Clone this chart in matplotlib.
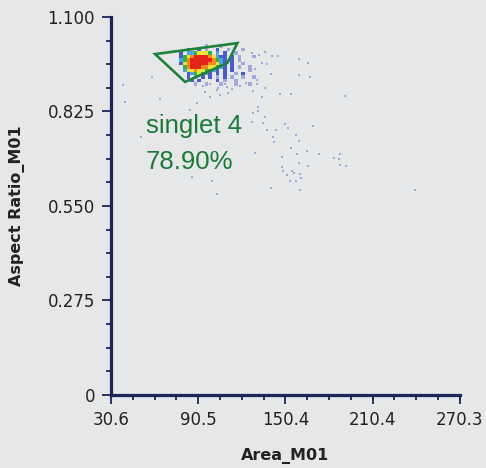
import numpy as np
import matplotlib.pyplot as plt
from matplotlib.colors import ListedColormap
from matplotlib.ticker import FixedLocator, AutoMinorLocator

BG = "#e6e7e9"
AXIS_COLOR = "#1c2557"
GATE_COLOR = "#1d823a"
TEXT_GREEN = "#1b7a37"

X_TICKS = [30.6, 90.5, 150.4, 210.4, 270.3]
X_TICK_LABELS = ["30.6", "90.5", "150.4", "210.4", "270.3"]
Y_TICKS = [0, 0.275, 0.55, 0.825, 1.1]
Y_TICK_LABELS = ["0", "0.275", "0.550", "0.825", "1.100"]

# density core: levels 1 (faint) .. 7 (red), rows from y=1.02 down, 0.01 each
GRID_X0 = 72.5
GRID_DX = 2.5
GRID_YTOP = 1.02
GRID_DY = 0.01
DENSITY_ROWS = [
    "         1   1          ",
    "    2  2 1  2  1   1    ",
    "  2 3345554 3 2  1      ",
    "  2456777765322 2 1   1 ",
    "  3467777776432 2 1     ",
    "  2567777766532 2  1    ",
    "   467776655432 2 1  1  ",
    "   3556554432 2 2    1  ",
    "    2345432 2 2  1 2    ",
    "    2 3 2 2 1 2 1  1  1 ",
    "     2 2    2 1  1      ",
    "      1  1   1   1   1  ",
]
LEVEL_COLORS = ["#a3a8da", "#4a5cc8", "#4aa8de", "#36b04a",
                "#ece335", "#f28a1e", "#e3241a"]

# sparse events outside the core
OUT_X = [127.7, 132.5, 136.6, 141.5, 145.6, 160.0, 166.2, 134.6, 138.0, 129.7,
         140.8, 160.0, 167.6, 131.1, 131.1, 136.6, 128.4, 147.0, 154.5, 191.0,
         134.6, 131.8, 131.8, 128.4, 136.6, 127.7, 135.3, 150.4, 152.5, 169.7,
         138.0, 144.2, 158.0, 142.1, 142.8, 160.0, 154.5, 165.5, 173.8, 129.7,
         158.7, 187.6, 148.3, 183.5, 186.9, 160.0, 166.2, 187.6, 191.7, 148.3,
         149.0, 155.2, 156.6, 151.8, 160.7, 161.4, 153.8, 158.0, 140.8, 160.7,
         239.2, 38.9, 58.8, 40.2, 64.3, 51.3, 85.0, 89.8, 98.8, 103.6,
         110.5, 105.6, 86.4, 100.1, 103.6, 88.4, 94.0, 98.8, 104.3, 109.1,
         113.9, 119.4, 123.6, 95.3, 111.2]
OUT_Y = [0.995, 0.989, 0.998, 0.987, 0.987, 0.978, 0.966, 0.966, 0.963, 0.949,
         0.934, 0.931, 0.925, 0.917, 0.905, 0.893, 0.885, 0.876, 0.876, 0.870,
         0.867, 0.838, 0.827, 0.821, 0.809, 0.794, 0.792, 0.789, 0.777, 0.783,
         0.771, 0.771, 0.757, 0.751, 0.736, 0.739, 0.719, 0.710, 0.701, 0.704,
         0.701, 0.701, 0.693, 0.690, 0.687, 0.675, 0.666, 0.669, 0.666, 0.664,
         0.652, 0.652, 0.646, 0.640, 0.643, 0.631, 0.623, 0.623, 0.602, 0.597,
         0.597, 0.902, 0.925, 0.853, 0.861, 0.751, 0.829, 0.850, 0.867, 0.888,
         0.896, 0.873, 0.634, 0.623, 0.585, 0.908, 0.899, 0.905, 0.893, 0.905,
         0.890, 0.899, 0.908, 0.882, 0.879]

GATE_X = [60.9, 117.4, 110.5, 81.5]
GATE_Y = [0.992, 1.024, 0.966, 0.911]
GATE_NAME = "singlet 4"
GATE_PCT = "78.90%"

fig = plt.figure(figsize=(4.86, 4.68), dpi=100, facecolor=BG)
ax = fig.add_axes([0.2284, 0.156, 0.718, 0.8077], facecolor=BG)

# density grid
grid = np.array([[0 if c == " " else int(c) for c in row] for row in DENSITY_ROWS])
grid = grid[::-1]
nrows, ncols = grid.shape
x_edges = GRID_X0 + GRID_DX * np.arange(ncols + 1)
y_edges = GRID_YTOP - GRID_DY * nrows + GRID_DY * np.arange(nrows + 1)
ax.scatter(OUT_X, OUT_Y, s=3, marker="s", color="#a3a8da", linewidths=0, zorder=2)
ax.pcolormesh(x_edges, y_edges, np.ma.masked_equal(grid, 0),
              cmap=ListedColormap(LEVEL_COLORS), vmin=0.5, vmax=7.5, zorder=3)

ax.fill(GATE_X, GATE_Y, fill=False, edgecolor=GATE_COLOR, linewidth=1.9, zorder=4)
ax.text(54.7, 0.762, GATE_NAME, color=TEXT_GREEN, fontsize=18.5,
        family="Liberation Sans", va="baseline", zorder=5)
ax.text(54.7, 0.658, GATE_PCT, color=TEXT_GREEN, fontsize=18.5,
        family="Liberation Sans", va="baseline", zorder=5)

ax.set_xlim(X_TICKS[0], X_TICKS[-1])
ax.set_ylim(Y_TICKS[0], Y_TICKS[-1])
ax.xaxis.set_major_locator(FixedLocator(X_TICKS))
ax.yaxis.set_major_locator(FixedLocator(Y_TICKS))
ax.set_xticklabels(X_TICK_LABELS)
ax.set_yticklabels(Y_TICK_LABELS)
ax.xaxis.set_minor_locator(AutoMinorLocator(4))
ax.yaxis.set_minor_locator(AutoMinorLocator(4))

for side in ["top", "right"]:
    ax.spines[side].set_visible(False)
for side in ["left", "bottom"]:
    ax.spines[side].set_color(AXIS_COLOR)
    ax.spines[side].set_linewidth(2.3)
ax.tick_params(which="major", length=6.5, width=1.3, color=AXIS_COLOR,
               labelsize=12, labelcolor="#222222", pad=5)
ax.tick_params(which="minor", length=3.5, width=1.3, color=AXIS_COLOR)

ax.set_xlabel("Area_M01", fontsize=11.5, fontweight="bold", color="#222222", labelpad=14)
ax.set_ylabel("Aspect Ratio_M01", fontsize=11.5, fontweight="bold", color="#222222", labelpad=16)

fig.savefig("out.png", dpi=100, facecolor=BG)
